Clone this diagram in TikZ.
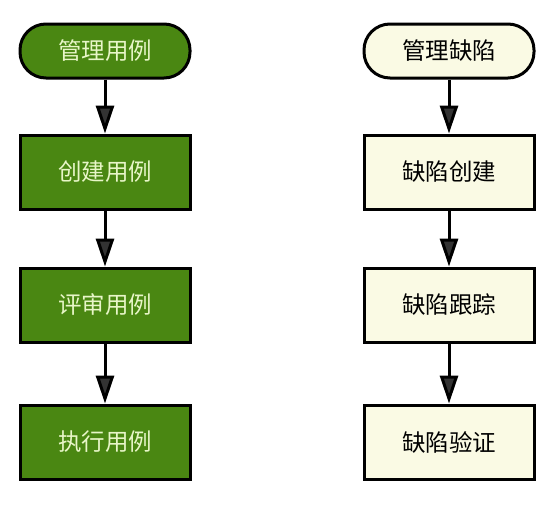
\documentclass[tikz,border=0pt]{standalone}
\usepackage{fontspec}
\newfontfamily\cjk{Noto Sans CJK SC}
\usetikzlibrary{arrows.meta}
\definecolor{caseGreen}{RGB}{74,135,18}
\definecolor{caseText}{RGB}{232,246,200}
\definecolor{bugCream}{RGB}{250,250,228}
\tikzset{
  term/.style={draw=black, line width=3pt, rounded corners=26pt, minimum width=170pt, minimum height=54pt, font=\cjk\fontsize{23.5}{26}\selectfont},
  stepbox/.style={draw=black, line width=3pt, minimum width=170pt, minimum height=74pt, font=\cjk\fontsize{23.5}{26}\selectfont},
  flow/.style={line width=3pt, -{Triangle[width=18pt,length=28pt,fill=black!80]}}
}

\begin{document}
\begin{tikzpicture} [x=1pt, y=-1pt]
\useasboundingbox (0,0) rectangle (553,507);
% test cases
\node[term, fill=caseGreen, text=caseText] (mgcase) at (105,51) {管理用例};
\node[stepbox, fill=caseGreen, text=caseText] (create) at (105,172) {创建用例};
\node[stepbox, fill=caseGreen, text=caseText] (review) at (105,305) {评审用例};
\node[stepbox, fill=caseGreen, text=caseText] (exec) at (105,442) {执行用例};
% defects
\node[term, fill=bugCream] (mgbug) at (449,51) {管理缺陷};
\node[stepbox, fill=bugCream] (bugnew) at (449,172) {缺陷创建};
\node[stepbox, fill=bugCream] (bugtrack) at (449,305) {缺陷跟踪};
\node[stepbox, fill=bugCream] (bugverify) at (449,442) {缺陷验证};
\foreach \a/\b in {mgcase/create, create/review, review/exec, mgbug/bugnew, bugnew/bugtrack, bugtrack/bugverify} {
  \draw[flow] (\a.south)--(\b.north);
}
\end{tikzpicture}
\end{document}
